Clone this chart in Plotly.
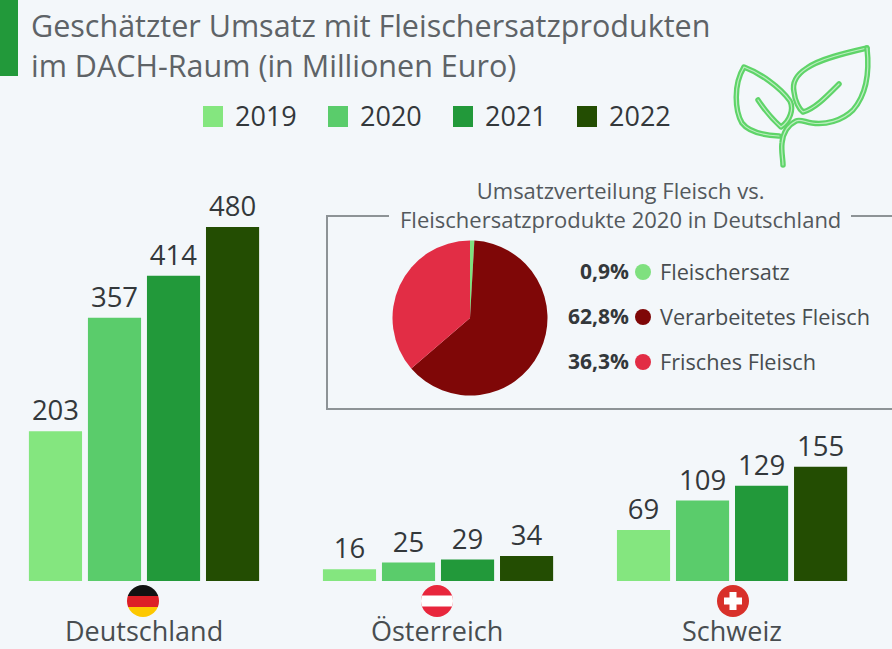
import base64
import plotly.graph_objects as go

W, H = 892, 649
FONT = "Open Sans"
BG = "#f3f7fa"

countries = ["Deutschland", "Österreich", "Schweiz"]
years = ["2019", "2020", "2021", "2022"]
v2019 = [203, 16, 69]
v2020 = [357, 25, 109]
v2021 = [414, 29, 129]
v2022 = [480, 34, 155]
year_colors = ["#84e67f", "#5acc6b", "#22993a", "#234d02"]

pie_labels = ["Fleischersatz", "Verarbeitetes Fleisch", "Frisches Fleisch"]
pie_values = [0.9, 62.8, 36.3]
pie_text = ["0,9%", "62,8%", "36,3%"]
pie_colors = ["#7fe07f", "#7f0707", "#e22d45"]

title_lines = ["Geschätzter Umsatz mit Fleischersatzprodukten", "im DACH-Raum (in Millionen Euro)"]
pie_title_lines = ["Umsatzverteilung Fleisch vs.", "Fleischersatzprodukte 2020 in Deutschland"]


def px(x):
    return x / W


def py(y):
    return 1 - y / H


def svg_uri(body, w, h):
    svg = f'<svg xmlns="http://www.w3.org/2000/svg" width="{w}" height="{h}" viewBox="0 0 {w} {h}">{body}</svg>'
    return "data:image/svg+xml;base64," + base64.b64encode(svg.encode()).decode()


def image(uri, x, y, w, h):
    return dict(source=uri, xref="paper", yref="paper", x=px(x), y=py(y), sizex=w / W, sizey=h / H,
                xanchor="left", yanchor="top", sizing="stretch", layer="above")


def text(s, x, y, size, color, anchor="center", bold=False):
    return dict(text=f"<b>{s}</b>" if bold else s, x=px(x), y=py(y), xref="paper", yref="paper",
                xanchor=anchor, yanchor="middle", showarrow=False, align=anchor if anchor != "middle" else "center",
                font=dict(family=FONT, size=size, color=color))


def line(x0, y0, x1, y1):
    return dict(type="line", xref="paper", yref="paper", x0=px(x0), y0=py(y0), x1=px(x1), y1=py(y1),
                line=dict(color="#8d9396", width=2))


fig = go.Figure()

for year, vals, col in zip(years, [v2019, v2020, v2021, v2022], year_colors):
    fig.add_trace(go.Bar(name=year, x=countries, y=vals, marker=dict(color=col, line=dict(width=0)),
                         text=vals, textposition="outside", cliponaxis=False,
                         textfont=dict(family=FONT, size=27.5, color="#33383b"), showlegend=False))

fig.add_trace(go.Pie(labels=pie_labels, values=pie_values, sort=False, direction="clockwise", rotation=0,
                     textinfo="none", showlegend=False,
                     marker=dict(colors=pie_colors, line=dict(width=0)),
                     domain=dict(x=[px(392.5), px(547.5)], y=[py(395.5), py(240.5)])))

annotations = [text("<br>".join(title_lines), 29, 45.5, 30.5, "#5e6367", "left"),
               text("<br>".join(pie_title_lines), 620, 204, 22, "#54595d")]
shapes = [dict(type="rect", xref="paper", yref="paper", x0=0, x1=px(18), y0=py(76), y1=1,
               fillcolor="#22993a", line=dict(width=0)),
          line(327, 216, 389, 216), line(851, 216, 892, 216), line(327, 215, 327, 410), line(326, 409, 892, 409)]

legend_swatch_x = [203, 328, 453, 577]
for year, col, sx in zip(years, year_colors, legend_swatch_x):
    shapes.append(dict(type="rect", xref="paper", yref="paper", x0=px(sx), x1=px(sx + 20), y0=py(127), y1=py(106),
                       fillcolor=col, line=dict(width=0)))
    annotations.append(text(year, sx + 30, 116, 27, "#33383b", "left"))

for label, pct, col, ry in zip(pie_labels, pie_text, pie_colors, [272, 317, 362]):
    annotations.append(text(pct, 631, ry - 1, 21, "#33383b", "right", bold=True))
    shapes.append(dict(type="circle", xref="paper", yref="paper", x0=px(635), x1=px(651), y0=py(ry + 8), y1=py(ry - 8),
                       fillcolor=col, line=dict(width=0)))
    annotations.append(text(label, 657.5, ry - 1, 21.7, "#484d50", "left"))

for c, cx in zip(countries, [144, 437, 732]):
    annotations.append(text(c, cx, 630.5, 27, "#484d50"))

# Flags
clip = '<defs><clipPath id="c"><circle cx="16" cy="16" r="16"/></clipPath></defs>'
de = clip + ('<g clip-path="url(#c)"><rect width="32" height="11" fill="#111"/>'
             '<rect y="11" width="32" height="11" fill="#dd1f26"/><rect y="22" width="32" height="10" fill="#fdc800"/></g>')
at = clip + ('<g clip-path="url(#c)"><rect width="32" height="32" fill="#e8263c"/>'
             '<rect y="10.5" width="32" height="11" fill="#ffffff"/></g>')
ch = ('<circle cx="16" cy="16" r="16" fill="#d8302a"/>'
      '<rect x="12.5" y="7" width="7" height="18" fill="#fff"/><rect x="7" y="12.5" width="18" height="7" fill="#fff"/>')
images = [image(svg_uri(de, 32, 32), 127, 585, 32, 32),
          image(svg_uri(at, 32, 32), 421, 585, 32, 32),
          image(svg_uri(ch, 32, 32), 717, 585, 32, 32)]

# Leaf icon, in its own 172x140 box whose origin is at (720,35)
leaf_paths = [
    "M147 13 C125 18 100 24 87 33 C76 40 72 48 74 57 C75 66 79 74 83 77 C95 74 108 60 119 49",
    "M147 13 C150 40 146 60 133 75 C122 86 105 90 92 88 C85 87 80 84 76 86 C68 90 63 98 62 108 C61 116 63 124 63 130",
    "M59 101 C40 100 28 96 22 88 C15 76 13 50 24 32 C40 38 60 52 70 66 C74 74 70 86 61 92 C52 84 44 74 38 65",
]
leaf = "".join(f'<path d="{d}" fill="none" stroke="#5fd469" stroke-width="5.5" stroke-linecap="round" stroke-linejoin="round"/>'
               f'<path d="{d}" fill="none" stroke="#bdeec1" stroke-width="1.2" stroke-linecap="round" stroke-linejoin="round"/>'
               for d in leaf_paths)
images.append(image(svg_uri(leaf, 172, 140), 720, 35, 172, 140))

fig.update_layout(
    width=W, height=H, margin=dict(l=0, r=0, t=0, b=0), autosize=False,
    paper_bgcolor=BG, plot_bgcolor=BG, barmode="group", bargap=0.197, bargroupgap=0.1,
    xaxis=dict(domain=[0, 1], type="category", range=[-0.4898, 2.544], visible=False, fixedrange=True),
    yaxis=dict(domain=[0, 1], range=[-92.2, 787.8], visible=False, fixedrange=True),
    annotations=annotations, shapes=shapes, images=images,
)
fig.write_html("out.html", config=dict(displayModeBar=False),
               post_script="document.body.style.margin='0';document.body.style.overflow='hidden';")
